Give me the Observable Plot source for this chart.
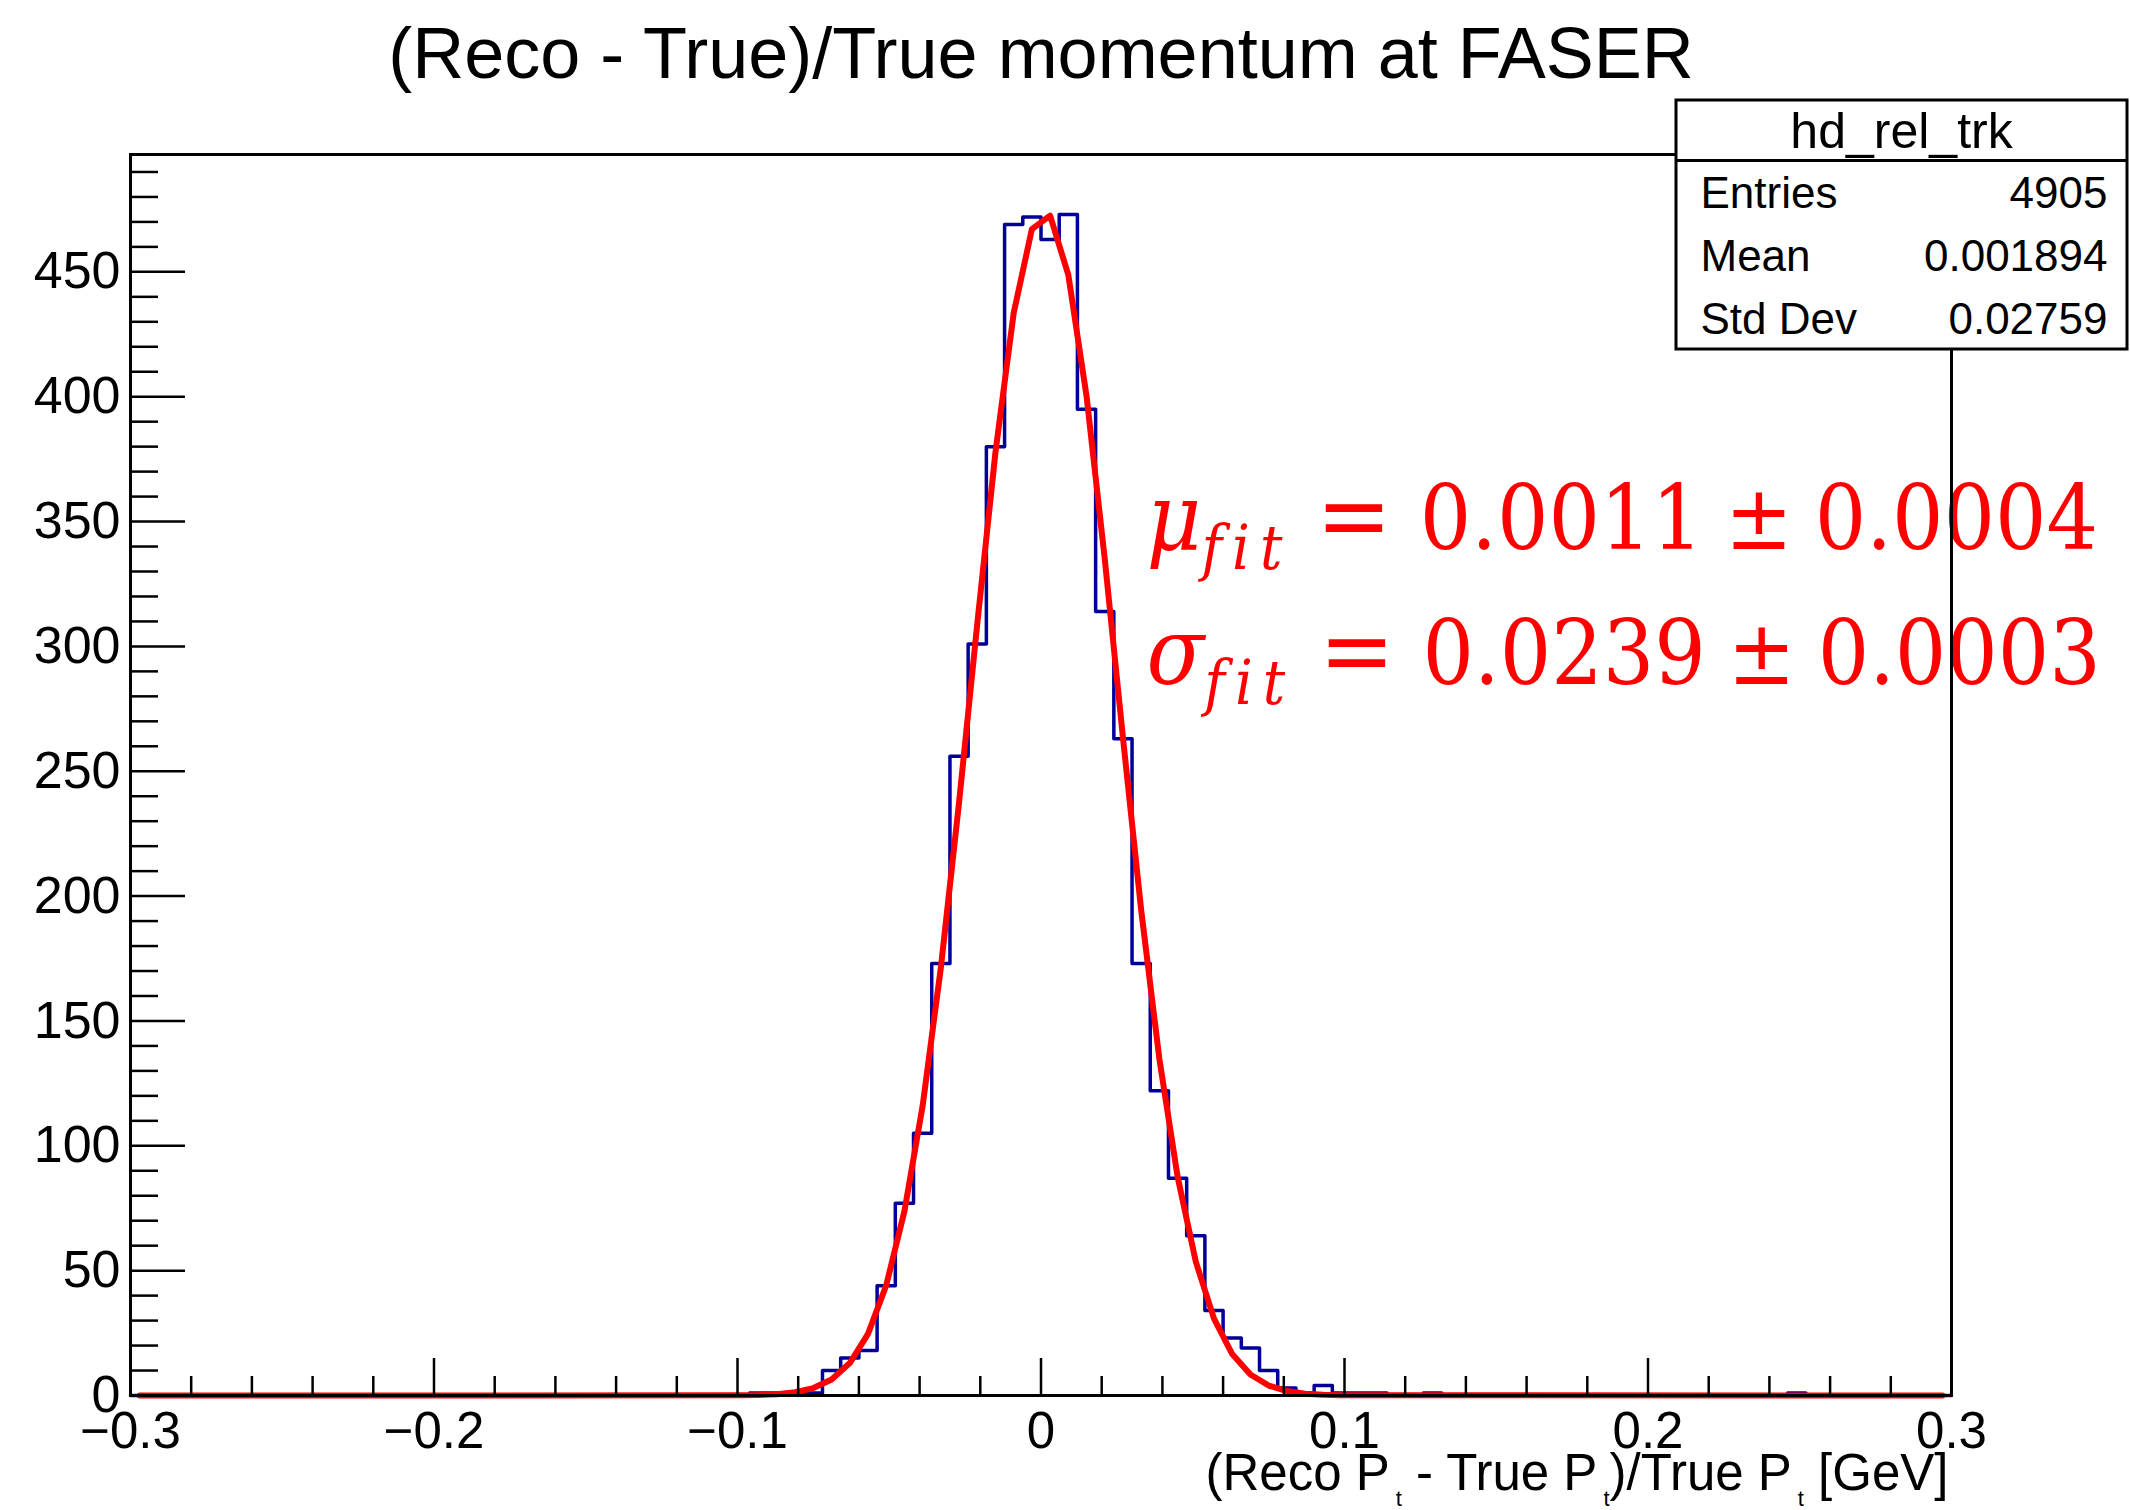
<!DOCTYPE html>
<html>
<head>
<meta charset="utf-8">
<script src="https://cdn.jsdelivr.net/npm/d3@7"></script>
<script src="https://cdn.jsdelivr.net/npm/@observablehq/plot@0.6"></script>
<style>
  html, body { margin: 0; padding: 0; background: #ffffff; }
  #chart svg { display: block; }
</style>
</head>
<body>
<div id="chart"></div>
<script>
// ---------- DATA ----------
// Histogram hd_rel_trk: 100 bins of width 0.006 over [-0.3, 0.3]; only non-empty bins listed (left edge, count)
const binWidth = 0.006;
const binLow = [-0.096, -0.090, -0.084, -0.078, -0.072, -0.066, -0.060, -0.054, -0.048, -0.042,
                -0.036, -0.030, -0.024, -0.018, -0.012, -0.006, 0.000, 0.006, 0.012, 0.018,
                0.024, 0.030, 0.036, 0.042, 0.048, 0.054, 0.060, 0.066, 0.072, 0.078,
                0.084, 0.090, 0.096, 0.102, 0.108, 0.126, 0.246];
const binCount = [1, 1, 1, 1, 10, 15, 18, 44, 77, 105,
                  173, 256, 301, 380, 469, 472, 463, 473, 395, 314,
                  263, 173, 122, 87, 64, 34, 23, 19, 10, 3,
                  1, 4, 1, 1, 1, 1, 1];

// Gaussian fit curve (red), values read at the curve's vertices
const fitX = [-0.297, -0.099, -0.093, -0.087, -0.081, -0.075, -0.069, -0.063, -0.057, -0.051,
              -0.045, -0.039, -0.033, -0.027, -0.021, -0.015, -0.009, -0.003, 0.003, 0.009,
              0.015, 0.021, 0.027, 0.033, 0.039, 0.045, 0.051, 0.057, 0.063, 0.069,
              0.075, 0.081, 0.087, 0.093, 0.099, 0.297];
const fitY = [0, 0.07, 0.20, 0.53, 1.30, 2.98, 6.42, 13.0, 24.7, 44.1,
              73.8, 116.0, 171.3, 237.5, 309.1, 377.8, 433.5, 467.1, 472.5, 448.8,
              400.3, 335.1, 263.5, 194.5, 134.8, 87.7, 53.6, 30.8, 16.6, 8.4,
              4.0, 1.8, 0.74, 0.29, 0.11, 0];

// Axes
const xTicks = [-0.3, -0.2, -0.1, 0, 0.1, 0.2, 0.3];
const yTicks = [0, 50, 100, 150, 200, 250, 300, 350, 400, 450];
const yMax = 497;

// Texts
const titleText = "(Reco - True)/True momentum at FASER";
const xLabelPieces = ["(Reco P", "t", " - True P", "t", ")/True P", "t", " [GeV]"];
const statsName = "hd_rel_trk";
const statsLabels = ["Entries", "Mean", "Std Dev"];
const statsValues = ["4905", "0.001894", "0.02759"];
const fitSymbols = ["μ", "σ"];
const fitValues = ["0.0011", "0.0239"];
const fitErrors = ["0.0004", "0.0003"];

// ---------- LAYOUT ----------
const W = 2130, H = 1510;
const ML = 130, MR = 179, MT = 154, MB = 115;
const PW = W - ML - MR, PH = H - MT - MB;
const SANS = "'Liberation Sans', Arial, Helvetica, sans-serif";
const SERIF = "'DejaVu Serif Condensed', 'DejaVu Serif', 'Liberation Serif', serif";
// annotation placement helpers (page pixel -> data units)
const xAt = px => -0.3 + (px - ML) / PW * 0.6;
const yAt = py => (MT + PH - py) / PH * yMax;

// ---------- BUILD TABLES ----------
const countMap = new Map(binLow.map((e, i) => [e.toFixed(3), binCount[i]]));
const hist = [];
for (let k = 0; k < 100; k++) {
  const e = +(-0.3 + k * binWidth).toFixed(3);
  hist.push({x: e, y: countMap.get(e.toFixed(3)) ?? 0});
}
hist.push({x: 0.3, y: hist[hist.length - 1].y});
const fit = fitX.map((x, i) => ({x, y: fitY[i]}));

const yMinor = d3.range(10, 500, 10).filter(v => v % 50 !== 0);
const xMinor = d3.range(-15, 16).map(i => i * 0.02).filter(v => Math.abs(Math.round(v * 10) - v * 10) > 1e-6);

const xFmt = d => d === 0 ? "0" : (d < 0 ? "\u2212" : "") + Math.abs(d);
const fitPlaceholders = fitSymbols.map((s, i) => `${s}fit = ${fitValues[i]} ± ${fitErrors[i]}`);
const xLabelPlain = xLabelPieces.join("");
const rowBase = [207, 270, 333];
const fitBase = [548, 683];

const chart = Plot.plot({
  width: W, height: H,
  marginLeft: ML, marginRight: MR, marginTop: MT, marginBottom: MB,
  x: {domain: [-0.3, 0.3]},
  y: {domain: [0, yMax]},
  style: {fontFamily: SANS, background: "#ffffff", color: "#000000"},
  marks: [
    Plot.line(hist, {x: "x", y: "y", curve: "step-after", stroke: "#000099", strokeWidth: 3.5}),
    Plot.line(fit, {x: "x", y: "y", stroke: "#ff0000", strokeWidth: 6, strokeLinejoin: "round"}),
    Plot.text(fitPlaceholders, {
      x: xAt(1146), y: (d, i) => yAt(fitBase[i]),
      textAnchor: "start", lineAnchor: "bottom",
      fontFamily: SERIF, fontSize: 90, fill: "#ff0000"
    }),
    Plot.ruleY(yMinor, {insetRight: PW - 28, stroke: "#000", strokeWidth: 2.5}),
    Plot.ruleY(yTicks, {insetRight: PW - 55, stroke: "#000", strokeWidth: 2.5}),
    Plot.ruleX(xMinor, {insetTop: PH - 19, stroke: "#000", strokeWidth: 2.5}),
    Plot.ruleX(xTicks, {insetTop: PH - 37, stroke: "#000", strokeWidth: 2.5}),
    Plot.axisY(yTicks, {tickSize: 0, tickPadding: 10, fontSize: 52, label: null, tickFormat: d => String(d)}),
    Plot.axisX(xTicks, {tickSize: 0, tickPadding: 16, fontSize: 51, label: null, tickFormat: xFmt}),
    Plot.frame({stroke: "#000", strokeWidth: 3}),
    // stats box
    Plot.rect([0], {x1: xAt(1676), x2: xAt(2127), y1: yAt(349), y2: yAt(100), fill: "#ffffff", stroke: "#000", strokeWidth: 3}),
    Plot.ruleY([yAt(160)], {x1: xAt(1676), x2: xAt(2127), stroke: "#000", strokeWidth: 3}),
    Plot.text([statsName], {x: xAt(1901), y: yAt(147), lineAnchor: "bottom", fontSize: 50}),
    Plot.text(statsLabels, {x: xAt(1700), y: (d, i) => yAt(rowBase[i]), textAnchor: "start", lineAnchor: "bottom", fontSize: 44}),
    Plot.text(statsValues, {x: xAt(2107), y: (d, i) => yAt(rowBase[i]), textAnchor: "end", lineAnchor: "bottom", fontSize: 44}),
    // title and x label
    Plot.text([titleText], {frameAnchor: "top", dy: 77 - MT, lineAnchor: "bottom", fontSize: 72}),
    Plot.text([xLabelPlain], {frameAnchor: "bottom-right", dx: -3, dy: 1489 - (H - MB), textAnchor: "end", lineAnchor: "bottom", fontSize: 51})
  ]
});

// rich text: subscripts
function rich(svg, match, parts) {
  d3.select(svg).selectAll("text")
    .filter(function () { return this.textContent === match; })
    .each(function () {
      const t = d3.select(this);
      t.text(null);
      for (const p of parts) {
        const s = t.append("tspan").text(p.text);
        if (p.dx != null) s.attr("dx", p.dx);
        if (p.dy != null) s.attr("dy", p.dy);
        if (p.size != null) s.attr("font-size", p.size);
        if (p.italic) s.attr("font-style", "italic");
        if (p.ls != null) s.attr("letter-spacing", p.ls);
      }
    });
}
fitPlaceholders.forEach((ph, i) => {
  rich(chart, ph, [
    {text: fitSymbols[i], italic: true, size: 94},
    {text: "fit", italic: true, size: 62, dy: 20, ls: 10},
    {text: "=", dx: 24, dy: -20, size: 100},
    {text: fitValues[i], dx: 28},
    {text: "±", dx: 22},
    {text: fitErrors[i], dx: 22}
  ]);
});
rich(chart, xLabelPlain, [
  {text: xLabelPieces[0]},
  {text: xLabelPieces[1], size: 22, dx: 6, dy: 16},
  {text: xLabelPieces[2], dy: -16},
  {text: xLabelPieces[3], size: 22, dx: 6, dy: 16},
  {text: xLabelPieces[4], dy: -16},
  {text: xLabelPieces[5], size: 22, dx: 6, dy: 16},
  {text: xLabelPieces[6], dy: -16}
]);

document.getElementById("chart").appendChild(chart);
</script>
</body>
</html>
